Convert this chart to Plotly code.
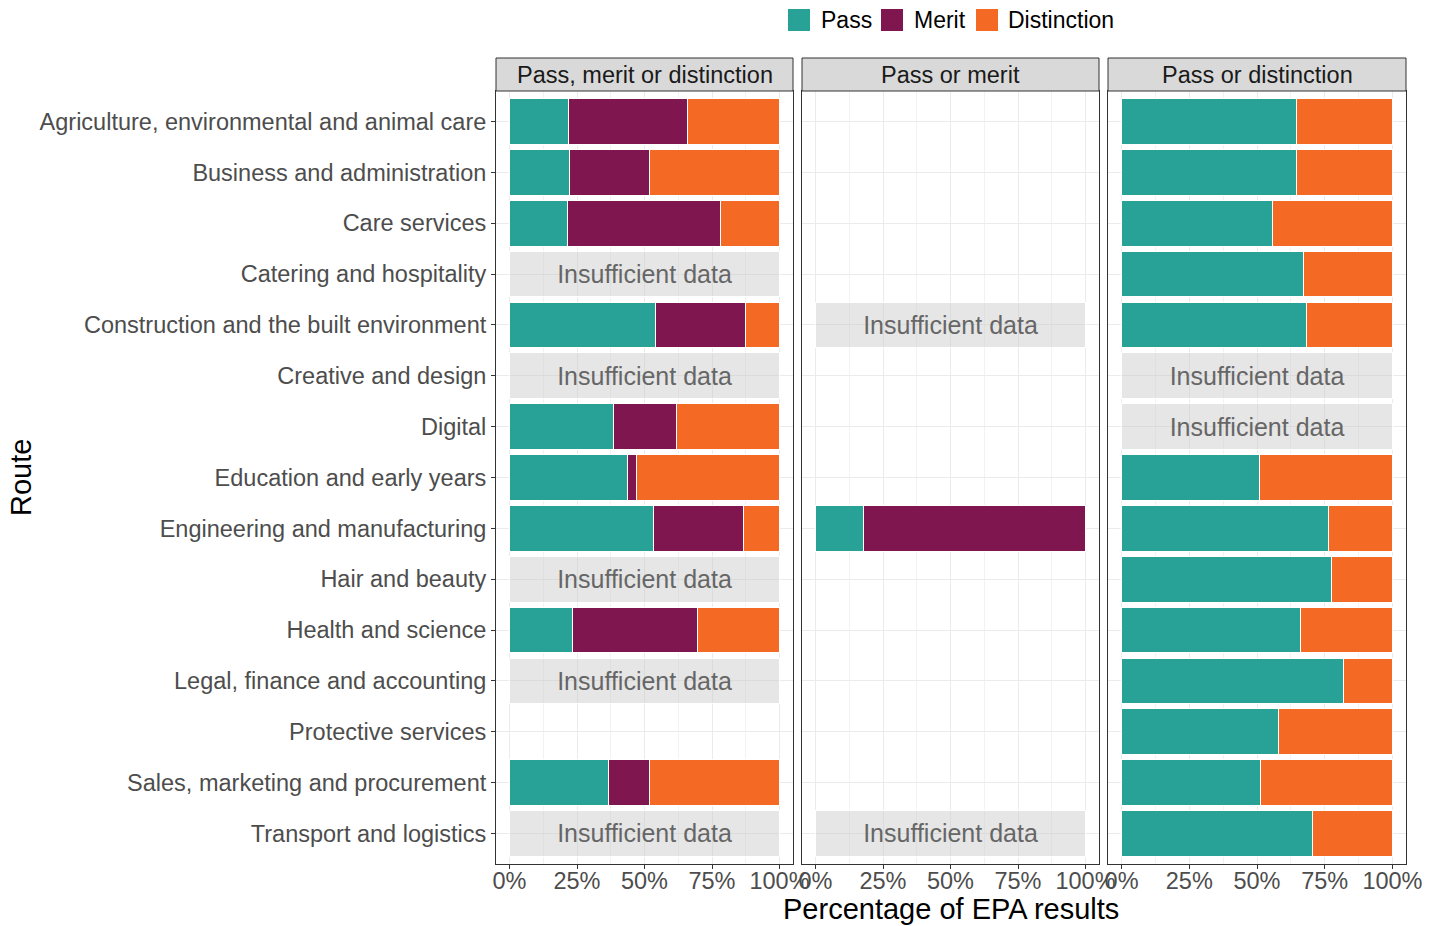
import plotly.graph_objects as go

routes = [
    "Agriculture, environmental and animal care",
    "Business and administration",
    "Care services",
    "Catering and hospitality",
    "Construction and the built environment",
    "Creative and design",
    "Digital",
    "Education and early years",
    "Engineering and manufacturing",
    "Hair and beauty",
    "Health and science",
    "Legal, finance and accounting",
    "Protective services",
    "Sales, marketing and procurement",
    "Transport and logistics",
]
facets = ["Pass, merit or distinction", "Pass or merit", "Pass or distinction"]
grades = ["Pass", "Merit", "Distinction"]
tick_vals = [0, 25, 50, 75, 100]
tick_text = ["0%", "25%", "50%", "75%", "100%"]

# Panel 1: pass, merit or distinction (percent)
pmd_pass = [21.7, 22.2, 21.6, None, 54.1, None, 38.5, 43.7, 53.3, None, 23.3, None, None, 36.7, None]
pmd_merit = [44.3, 29.7, 56.5, None, 33.3, None, 23.4, 3.3, 33.4, None, 46.3, None, None, 15.2, None]
pmd_dist = [34.0, 48.1, 21.9, None, 12.6, None, 38.1, 53.0, 13.3, None, 30.4, None, None, 48.1, None]
# Panel 2: pass or merit
pm_pass = [None, None, None, None, None, None, None, None, 17.7, None, None, None, None, None, None]
pm_merit = [None, None, None, None, None, None, None, None, 82.3, None, None, None, None, None, None]
# Panel 3: pass or distinction
pd_pass = [64.4, 64.4, 55.9, 67.1, 68.1, None, None, 51.1, 76.3, 77.6, 66.0, 81.9, 58.0, 51.2, 70.6]
pd_dist = [35.6, 35.6, 44.1, 32.9, 31.9, None, None, 48.9, 23.7, 22.4, 34.0, 18.1, 42.0, 48.8, 29.4]

# Insufficient data rows per facet
pmd_insufficient = ["Catering and hospitality", "Creative and design", "Hair and beauty",
                    "Legal, finance and accounting", "Transport and logistics"]
pm_insufficient = ["Construction and the built environment", "Transport and logistics"]
pd_insufficient = ["Creative and design", "Digital"]
insufficient_share = 100

colors = {"Pass": "#28A197", "Merit": "#801650", "Distinction": "#F46A25"}
FONT = "Liberation Sans, Arial, sans-serif"

panel_data = [
    {"Pass": pmd_pass, "Merit": pmd_merit, "Distinction": pmd_dist},
    {"Pass": pm_pass, "Merit": pm_merit, "Distinction": [None] * len(routes)},
    {"Pass": pd_pass, "Merit": [None] * len(routes), "Distinction": pd_dist},
]
insufficient = [pmd_insufficient, pm_insufficient, pd_insufficient]

W, H = 1433, 926
px_x = [(496, 793), (802, 1099), (1108, 1406)]
top_px, bot_px = 91, 864
strip_top_px = 58

fig = go.Figure()
for i, pdata in enumerate(panel_data):
    xa = "x" if i == 0 else f"x{i+1}"
    ya = "y" if i == 0 else f"y{i+1}"
    for g in grades:
        vals = pdata[g]
        ys = [r for r, v in zip(routes, vals) if v is not None]
        xs = [v for v in vals if v is not None]
        fig.add_trace(go.Bar(
            x=xs, y=ys, orientation="h", name=g,
            marker=dict(color=colors[g], line=dict(color="white", width=1)),
            width=0.9, xaxis=xa, yaxis=ya,
            showlegend=False,
            hoverinfo="skip",
        ))
    ins = insufficient[i]
    fig.add_trace(go.Bar(
        x=[insufficient_share] * len(ins), y=ins, orientation="h",
        marker=dict(color="rgba(200,200,200,0.45)", line=dict(color="white", width=1)),
        width=0.9, xaxis=xa, yaxis=ya, showlegend=False,
        text=["Insufficient data"] * len(ins), textposition="inside",
        insidetextanchor="middle", constraintext="none",
        insidetextfont=dict(size=25, color="#666666", family=FONT),
        hoverinfo="skip",
    ))

ydom = [1 - bot_px / H, 1 - top_px / H]
layout = dict(
    width=W, height=H, autosize=False,
    margin=dict(l=0, r=0, t=0, b=0, pad=0),
    paper_bgcolor="white", plot_bgcolor="white",
    barmode="stack", bargap=0.1,
    font=dict(family=FONT, size=23.5, color="#4d4d4d"),
    showlegend=False,
)
for i in range(3):
    key = "xaxis" if i == 0 else f"xaxis{i+1}"
    ykey = "yaxis" if i == 0 else f"yaxis{i+1}"
    x0, x1 = px_x[i]
    layout[key] = dict(
        domain=[x0 / W, x1 / W], range=[-5, 105], anchor="y" if i == 0 else f"y{i+1}",
        automargin=False, ticklabelstandoff=-8,
        tickvals=tick_vals, ticktext=tick_text, ticks="outside", ticklen=4, tickcolor="#333333",
        showgrid=True, gridcolor="#ebebeb", gridwidth=1.2,
        minor=dict(dtick=12.5, tick0=0, showgrid=True, gridcolor="#f2f2f2", gridwidth=0.6),
        zeroline=False, showline=True, linecolor="#333333", linewidth=1, mirror=True,
        tickfont=dict(size=23.5, color="#4d4d4d", family=FONT), fixedrange=True,
    )
    layout[ykey] = dict(
        domain=ydom, type="category", categoryorder="array", categoryarray=routes,
        range=[len(routes) - 0.4, -0.6], anchor="x" if i == 0 else f"x{i+1}",
        automargin=False,
        showticklabels=(i == 0), ticks="outside" if i == 0 else "", ticklen=4, tickcolor="#333333",
        showgrid=True, gridcolor="#ebebeb", gridwidth=1.2,
        zeroline=False, showline=True, linecolor="#333333", linewidth=1, mirror=True,
        tickfont=dict(size=23.5, color="#4d4d4d", family=FONT), fixedrange=True,
    )
    if i > 0:
        layout[ykey]["matches"] = "y"
fig.update_layout(**layout)

# strips
for i, name in enumerate(facets):
    x0, x1 = px_x[i]
    fig.add_shape(type="rect", xref="paper", yref="paper",
                  x0=x0 / W, x1=x1 / W, y0=1 - top_px / H, y1=1 - strip_top_px / H,
                  fillcolor="#d9d9d9", line=dict(color="#333333", width=1))
    fig.add_annotation(xref="paper", yref="paper", x=(x0 + x1) / 2 / W,
                       y=1 - (strip_top_px + top_px) / 2 / H, text=name, showarrow=False,
                       font=dict(size=23.5, color="#1a1a1a", family=FONT),
                       xanchor="center", yanchor="middle")

# legend (keys drawn as squares with labels)
legend_pos = {"Pass": (788, 819), "Merit": (881, 912), "Distinction": (976, 1006)}
for g in grades:
    sx, tx = legend_pos[g]
    fig.add_shape(type="rect", xref="paper", yref="paper",
                  x0=sx / W, x1=(sx + 22) / W, y0=1 - 31 / H, y1=1 - 9 / H,
                  fillcolor=colors[g], line=dict(color="white", width=0))
    fig.add_annotation(xref="paper", yref="paper", x=tx / W, y=1 - 20 / H, text=g,
                       showarrow=False, font=dict(size=23, color="black", family=FONT),
                       xanchor="left", yanchor="middle")

fig.add_annotation(xref="paper", yref="paper", x=951 / W, y=1 - 909 / H,
                   text="Percentage of EPA results", showarrow=False,
                   font=dict(size=29, color="black", family=FONT),
                   xanchor="center", yanchor="middle")
fig.add_annotation(xref="paper", yref="paper", x=21 / W, y=1 - 478 / H,
                   text="Route", showarrow=False, textangle=-90,
                   font=dict(size=29, color="black", family=FONT),
                   xanchor="center", yanchor="middle")

fig.write_html("out.html",
               config={"responsive": False, "displayModeBar": False},
               post_script="document.body.style.margin='0';document.body.style.overflow='hidden';")
